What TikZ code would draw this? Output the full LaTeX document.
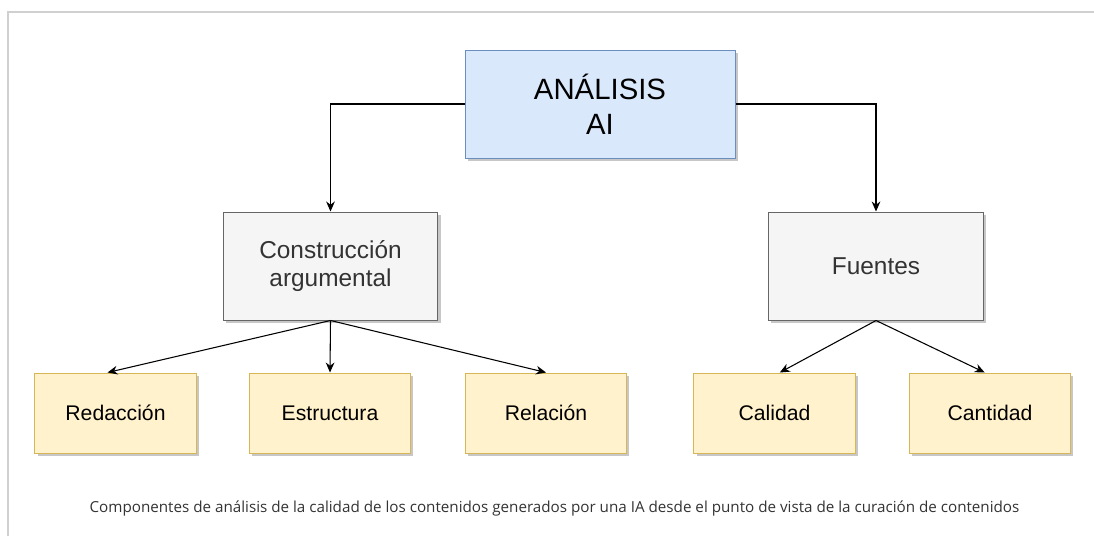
\documentclass[tikz,border=0pt]{standalone}
\usepackage{fontspec}
\setmainfont{Liberation Sans}
\newfontfamily\capfont{Open Sans}
\usepackage{xcolor}
\usepackage{tikz}
\usetikzlibrary{positioning, shapes, shadows}
\usetikzlibrary{arrows.meta}

\definecolor{rootfill}{RGB}{218,232,252}
\definecolor{rootline}{RGB}{108,142,191}
\definecolor{midfill}{RGB}{245,245,245}
\definecolor{midline}{RGB}{102,102,102}
\definecolor{midtext}{RGB}{51,51,51}
\definecolor{leaffill}{RGB}{255,242,204}
\definecolor{leafline}{RGB}{214,182,86}
\definecolor{frameline}{RGB}{208,208,208}

\tikzset{
	boxshadow/.style={drop shadow={shadow xshift=2pt, shadow yshift=-2pt, fill=black, opacity=0.22}},
	rootbox/.style={rectangle, draw=rootline, fill=rootfill, boxshadow, minimum width=202.5pt, minimum height=81pt, align=center, font=\fontsize{22}{26}\selectfont, line width=0.75pt},
	midbox/.style={rectangle, draw=midline, fill=midfill, boxshadow, text=midtext, minimum width=161pt, minimum height=81pt, align=center, font=\fontsize{18.3}{21.5}\selectfont, line width=0.75pt},
	leafbox/.style={rectangle, draw=leafline, fill=leaffill, boxshadow, minimum width=121pt, minimum height=60pt, align=center, font=\fontsize{15.9}{19}\selectfont, line width=0.75pt},
	link/.style={-{Stealth[length=7.5pt, width=6.5pt]}, line width=0.8pt}
}

\begin{document}
\begin{tikzpicture}[x=0.75pt, y=-0.75pt]

		\useasboundingbox (0,0) rectangle (1094,536);
		% frame of the page
		\draw[frameline, line width=1.1pt] (8,536) -- (8,12) -- (1094,12);

		\node[rootbox] (root) at (600,104) {ANÁLISIS\\AI};

		\node[midbox] (cons) at (330.5,266) {Construcción\\argumental};
		\node[midbox] (fuen) at (876,266) {Fuentes};

		\node[leafbox] (red) at (115.5,413) {Redacción};
		\node[leafbox] (est) at (330,413) {Estructura};
		\node[leafbox] (rel) at (546,413) {Relación};
		\node[leafbox] (cal) at (774.5,413) {Calidad};
		\node[leafbox] (can) at (990,413) {Cantidad};

		\draw[link] (root.west) -| (cons.north);
		\draw[link] (root.east) -| (fuen.north);

		\draw[link] (cons.south) -- ([xshift=-6pt]red.north);
		\draw[link] (cons.south) -- (est.north);
		\draw[link] (cons.south) -- (rel.north);
		\draw[link] (fuen.south) -- ([xshift=4pt]cal.north);
		\draw[link] (fuen.south) -- ([xshift=-4pt]can.north);

		\node[text=midtext, font=\capfont\fontsize{11.4}{14}\selectfont] (caption) at (554.5,508) {Componentes de análisis de la calidad de los contenidos generados por una IA desde el punto de vista de la curación de contenidos};

	\end{tikzpicture}
\end{document}
